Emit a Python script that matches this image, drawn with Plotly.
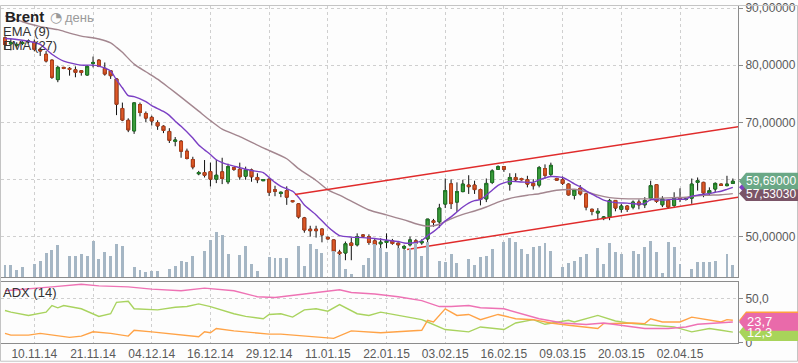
import plotly.graph_objects as go

# ---------------- data ----------------
tick_index = [5, 15, 25, 35, 45, 55, 65, 75, 85, 95, 105, 115]
tick_dates = ["10.11.14", "21.11.14", "04.12.14", "16.12.14", "29.12.14", "11.01.15",
              "22.01.15", "03.02.15", "16.02.15", "09.03.15", "20.03.15", "02.04.15"]

opens = [84.78, 83.72, 83.50, 83.80, 84.10, 84.02, 82.76, 81.90, 80.87, 77.47,
         79.61, 79.44, 79.19, 79.02, 78.28, 80.30, 80.87, 79.44, 79.02, 77.59,
         72.42, 70.35, 68.50, 73.11, 71.55, 70.87, 69.95, 69.31, 68.40, 66.67,
         66.68, 64.95, 63.50, 61.00, 61.21, 61.38, 60.05, 61.33, 59.60, 62.07,
         61.78, 60.57, 61.67, 60.35, 59.78, 60.05, 58.20, 57.55, 58.05, 56.30,
         55.74, 53.28, 51.30, 51.30, 51.33, 49.88, 49.43, 47.30, 47.13, 48.88,
         48.57, 50.30, 50.00, 49.26, 48.75, 48.97, 49.26, 48.85, 47.99, 48.57,
         49.26, 48.92, 49.60, 52.76, 52.59, 55.70, 59.23, 56.04, 57.88, 59.02,
         59.02, 58.23, 56.60, 59.49, 61.78, 62.24, 59.19, 60.35, 60.17, 59.95,
         59.31, 59.02, 61.90, 60.91, 60.17, 59.95, 59.19, 57.20, 58.45, 57.47,
         54.78, 54.14, 53.16, 53.45, 56.33, 54.78, 55.35, 55.17, 56.04, 55.57,
         56.73, 59.09, 55.57, 56.33, 55.47, 56.73, 56.50, 56.73, 59.49, 59.49,
         57.59, 58.33, 59.19, 58.92, 59.31]
highs = [85.05, 84.66, 84.00, 84.20, 84.50, 84.49, 83.05, 82.47, 81.00, 79.88,
         79.70, 79.66, 79.78, 79.14, 80.00, 81.50, 81.04, 80.47, 79.14, 77.76,
         73.45, 70.70, 73.45, 73.45, 71.90, 71.16, 70.35, 69.48, 68.97, 67.42,
         66.90, 65.40, 63.97, 61.50, 63.40, 62.94, 63.40, 63.80, 62.76, 62.10,
         62.94, 62.24, 61.90, 61.09, 60.05, 60.20, 58.90, 57.90, 58.80, 56.40,
         55.86, 53.45, 51.90, 51.90, 51.40, 50.00, 49.50, 47.70, 49.14, 49.83,
         50.57, 50.40, 50.40, 49.71, 49.71, 50.57, 49.60, 48.97, 48.57, 50.00,
         49.60, 49.54, 53.10, 53.10, 55.74, 60.17, 60.00, 59.49, 59.95, 60.74,
         59.78, 58.40, 60.17, 61.78, 62.47, 62.30, 61.09, 61.09, 60.30, 60.64,
         60.05, 62.36, 62.64, 62.94, 60.30, 60.52, 59.30, 58.30, 59.02, 57.60,
         54.90, 54.99, 53.60, 56.60, 56.40, 55.74, 55.50, 56.33, 56.50, 56.90,
         59.78, 59.20, 57.07, 56.50, 57.76, 58.45, 56.90, 60.17, 60.35, 59.60,
         58.62, 59.50, 59.30, 60.64, 60.17]
lows = [82.76, 82.59, 83.10, 83.50, 83.80, 82.42, 81.61, 80.47, 77.59, 77.02,
        79.30, 78.16, 77.88, 78.16, 78.16, 79.61, 79.66, 78.16, 77.59, 71.26,
        70.20, 68.28, 67.98, 71.04, 70.05, 69.43, 68.68, 68.11, 66.38, 65.81,
        63.80, 63.50, 61.78, 60.74, 60.35, 58.79, 59.36, 59.19, 59.19, 61.50,
        59.95, 59.95, 59.60, 59.36, 59.75, 57.10, 57.07, 56.90, 55.56, 56.00,
        53.16, 50.69, 50.00, 49.83, 49.00, 49.50, 47.30, 45.40, 45.87, 45.87,
        48.28, 49.80, 48.57, 47.70, 47.99, 47.99, 48.57, 47.99, 47.70, 48.28,
        48.28, 48.57, 48.85, 51.73, 51.56, 55.00, 54.83, 54.32, 57.76, 57.47,
        57.47, 55.47, 56.04, 59.19, 61.67, 61.33, 58.05, 59.60, 59.80, 58.62,
        58.23, 58.62, 60.17, 60.52, 59.80, 59.02, 57.20, 56.50, 57.19, 54.60,
        53.74, 52.88, 52.88, 52.88, 54.43, 54.20, 54.32, 54.78, 54.78, 55.00,
        56.33, 55.90, 55.17, 54.90, 55.00, 56.04, 56.30, 55.74, 58.05, 56.90,
        57.19, 57.76, 58.90, 58.80, 59.20]
closes = [83.62, 83.90, 83.62, 83.92, 84.20, 82.76, 82.47, 80.74, 77.88, 79.61,
          79.44, 79.26, 78.74, 78.74, 79.78, 80.47, 79.78, 78.45, 78.16, 73.16,
          70.40, 68.68, 73.40, 71.73, 70.74, 70.23, 69.37, 68.57, 66.85, 66.90,
          64.95, 63.67, 62.19, 61.20, 60.74, 60.05, 60.74, 60.17, 62.24, 61.78,
          60.47, 61.67, 60.47, 59.95, 59.99, 57.76, 57.94, 57.76, 56.90, 56.12,
          53.45, 51.16, 51.04, 51.04, 50.30, 49.60, 47.42, 47.02, 48.75, 48.45,
          50.00, 50.10, 48.97, 48.57, 49.02, 49.26, 48.80, 48.57, 48.28, 49.43,
          48.85, 49.14, 53.06, 52.47, 55.00, 58.05, 55.78, 57.88, 59.19, 58.74,
          58.23, 56.50, 59.31, 61.50, 62.24, 61.78, 60.35, 59.95, 59.95, 59.19,
          58.91, 62.07, 60.74, 62.47, 59.88, 59.31, 57.30, 58.15, 57.47, 55.17,
          54.43, 54.43, 53.45, 56.33, 55.00, 55.35, 54.78, 56.04, 55.57, 56.33,
          58.92, 56.16, 56.60, 55.17, 56.73, 56.50, 56.60, 59.19, 59.78, 57.64,
          58.05, 59.31, 58.97, 59.19, 59.69]
volumes = [12300, 12300, 7300, 10000, 0, 13300, 16300, 24300, 27300, 32300,
           0, 21300, 21300, 23300, 21300, 36300, 18300, 25300, 21300, 33300,
           31300, 0, 10300, 7300, 5300, 6300, 6300, 0, 8300, 11300,
           16300, 15300, 21300, 0, 26300, 37300, 45300, 42300, 23300, 0,
           22300, 31300, 13300, 6300, 0, 20300, 19000, 19000, 19000, 0,
           31000, 11000, 33000, 28000, 24000, 0, 26000, 22000, 8000, 3000,
           0, 12000, 19000, 33000, 29000, 25000, 0, 29000, 27000, 29000,
           34000, 21000, 36000, 0, 16000, 15000, 23000, 14000, 0, 18000,
           12000, 20000, 21000, 28000, 0, 36000, 40000, 36000, 28000, 23000,
           30000, 31000, 34300, 26700, 0, 10000, 14000, 16700, 20000, 23300,
           0, 29000, 13300, 34300, 25000, 23300, 0, 26700, 23300, 30000,
           36700, 25000, 4000, 35000, 30000, 13300, 0, 7700, 15700, 15000,
           15700, 16700, 0, 23000, 11700]

ema9_points = [(0, 84.66), (2, 84.49), (5, 83.97), (6, 83.62), (8, 81.90), (10, 80.69),
               (12, 80.18), (13, 80.00), (15, 80.00), (16, 79.83), (18, 78.97), (19, 77.42),
               (20, 76.04), (21, 74.66), (22, 74.49), (24, 73.62), (25, 72.93), (27, 71.90),
               (28, 71.21), (29, 70.18), (30, 69.31), (32, 67.25), (33, 66.04), (34, 65.18),
               (35, 64.37), (36, 63.45), (37, 62.94), (38, 62.59), (40, 62.07), (42, 61.56),
               (44, 61.21), (45, 60.35), (46, 59.49), (47, 58.80), (49, 57.94), (50, 56.90),
               (51, 55.52), (53, 53.80), (55, 51.73), (56, 50.87), (57, 50.18), (59, 49.92),
               (61, 49.83), (63, 49.66), (65, 49.40), (67, 49.14), (68, 48.88), (70, 48.97),
               (71, 49.32), (72, 50.18), (73, 50.87), (74, 51.73), (75, 52.76), (76, 53.45),
               (77, 54.32), (78, 55.18), (79, 55.87), (80, 56.30), (81, 56.47), (82, 57.25),
               (83, 58.11), (84, 58.97), (85, 59.40), (86, 59.66), (88, 59.57), (90, 59.49),
               (91, 59.92), (93, 60.52), (95, 60.35), (96, 59.83), (97, 59.23), (98, 58.71),
               (99, 58.02), (100, 57.42), (101, 56.90), (102, 56.38), (104, 55.95), (106, 55.87),
               (108, 55.70), (109, 55.78), (110, 56.47), (112, 56.38), (114, 56.56), (116, 56.56),
               (117, 57.07), (118, 57.25), (119, 57.42), (120, 57.51), (121, 57.76), (122, 57.94),
               (123, 58.28), (124, 58.63)]

ema27_points = [(0, 88.62), (3, 87.59), (6, 86.73), (9, 86.21), (11, 85.61), (13, 85.09),
                (16, 84.57), (18, 83.88), (19, 83.11), (20, 82.24), (22, 80.18), (24, 78.85),
                (26, 77.55), (28, 76.00), (30, 74.40), (33, 71.95), (35, 70.30), (37, 68.80),
                (40, 67.50), (44, 65.52), (48, 63.63), (50, 61.90), (53, 59.83), (55, 58.19),
                (57, 57.25), (59, 56.21), (62, 54.66), (65, 53.80), (68, 52.94), (70, 52.25),
                (72, 51.82), (73, 51.90), (74, 52.16), (76, 53.11), (78, 53.88), (80, 54.49),
                (82, 55.18), (84, 56.04), (85, 56.38), (87, 56.90), (89, 57.25), (91, 57.50),
                (93, 57.94), (95, 58.19), (97, 58.28), (99, 57.85), (101, 57.25), (103, 56.82),
                (105, 56.64), (107, 56.61), (110, 56.61), (112, 56.73), (114, 56.82), (116, 56.90),
                (118, 57.16), (120, 57.25), (122, 57.33), (124, 57.5303)]

adx_points = [(0, 58.9), (3, 60.8), (8, 63.3), (13, 66.3), (16, 64.4), (21, 63.3), (25, 60.8),
              (30, 58.9), (34, 61.9), (39, 58.9), (43, 52.2), (46, 51.4), (50, 54.4), (56, 59.7),
              (57, 60.0), (59, 57.0), (63, 55.2), (67, 52.2), (71, 47.8), (74, 41.1), (76, 41.1),
              (79, 42.2), (81, 39.7), (85, 38.6), (88, 33.0), (91, 27.4), (95, 22.6), (99, 20.8),
              (102, 22.6), (105, 20.0), (109, 16.3), (113, 16.3), (116, 18.1), (118, 21.1),
              (122, 22.6), (124, 23.7)]
pdi_points = [(0, 36.7), (1, 34.8), (4, 31.1), (7, 34.8), (8, 42.2), (9, 39.7), (10, 42.2),
              (13, 38.6), (16, 30.0), (18, 33.0), (19, 45.9), (21, 47.0), (22, 38.6), (26, 37.4),
              (29, 40.3), (31, 41.1), (33, 44.1), (35, 41.1), (39, 33.0), (41, 30.0), (44, 27.4),
              (45, 32.2), (47, 33.0), (49, 29.2), (51, 37.4), (53, 38.6), (55, 35.9), (57, 43.3),
              (60, 33.0), (62, 31.1), (64, 34.8), (67, 31.1), (71, 26.3), (72, 23.7), (75, 15.2),
              (79, 12.6), (81, 18.1), (85, 15.2), (87, 22.6), (90, 26.3), (92, 21.1), (96, 25.6),
              (97, 23.7), (101, 31.1), (104, 24.8), (107, 21.9), (110, 20.0), (114, 18.1),
              (117, 12.6), (120, 16.3), (122, 14.4), (124, 12.3)]
mdi_points = [(0, 10.8), (1, 8.9), (4, 8.9), (6, 10.8), (11, 6.3), (13, 7.8), (15, 12.6),
              (18, 10.8), (21, 7.8), (22, 14.4), (25, 12.6), (33, 7.0), (34, 12.6), (35, 11.5),
              (36, 16.3), (39, 13.7), (45, 10.0), (47, 10.0), (56, 5.2), (57, 7.8), (59, 13.7),
              (64, 11.5), (67, 12.6), (71, 14.4), (72, 25.6), (73, 23.7), (75, 38.6), (77, 31.1),
              (79, 32.2), (81, 26.3), (84, 32.2), (87, 27.4), (90, 26.3), (93, 22.6), (96, 20.0),
              (99, 18.1), (101, 16.3), (102, 21.9), (107, 22.6), (109, 21.9), (110, 27.4),
              (112, 23.7), (115, 23.7), (117, 29.2), (120, 26.3), (122, 23.7), (123, 26.3),
              (124, 25.6)]

channel_upper = [(49.4, 57.37), (124.9, 69.23)]
channel_lower = [(68.5, 47.76), (124.9, 56.90)]

price_ticks = [50, 60, 70, 80, 90]
adx_ticks = [0, 50]

# ---------------- layout geometry ----------------
W, H = 798, 363
ML, MR, MT, MB = 1, 60, 1, 20
PW, PH = W - ML - MR, H - MT - MB


def px_x(px):
    return (px - ML) / PW


def px_y(py):
    return (H - MB - py) / PH


def fmt(v, d):
    return f"{v:.{d}f}".replace(".", ",")


main_dom = [px_y(276), 1.0]
adx_dom = [0.0, px_y(281)]
x_range = [-0.68, 124.88]
price_range = [42.94, 90.35]
vol_range = [0, 275000]
adx_range = [0, 68.9]
price_per_px = (price_range[1] - price_range[0]) / (276 - 1)
adx_per_px = (adx_range[1] - adx_range[0]) / (343 - 281)

idx = list(range(len(closes)))
body_hi = [max(o, c) for o, c in zip(opens, closes)]
body_lo = [min(o, c) for o, c in zip(opens, closes)]

fig = go.Figure()

fig.add_trace(go.Bar(x=idx, y=volumes, marker=dict(color="#a5b6c4", line=dict(width=0)),
                     width=0.5, xaxis="x", yaxis="y2", hoverinfo="skip", showlegend=False))

fig.add_trace(go.Candlestick(x=idx, open=opens, high=highs, low=lows, close=closes,
                             increasing=dict(line=dict(color="#111111", width=1), fillcolor="#111111"),
                             decreasing=dict(line=dict(color="#111111", width=1), fillcolor="#111111"),
                             whiskerwidth=0, xaxis="x", yaxis="y", showlegend=False, hoverinfo="skip"))
fig.add_trace(go.Candlestick(x=idx, open=opens, high=body_hi, low=body_lo, close=closes,
                             increasing=dict(line=dict(color="#1f7a25", width=1), fillcolor="#3d9e3d"),
                             decreasing=dict(line=dict(color="#b8401a", width=1), fillcolor="#dc5a28"),
                             whiskerwidth=0, xaxis="x", yaxis="y", showlegend=False, hoverinfo="skip"))

fig.add_trace(go.Scatter(x=[p[0] for p in ema27_points], y=[p[1] for p in ema27_points],
                         mode="lines", line=dict(color="#a3868f", width=1.4, shape="spline", smoothing=0.6),
                         xaxis="x", yaxis="y", showlegend=False, hoverinfo="skip"))
fig.add_trace(go.Scatter(x=[p[0] for p in ema9_points], y=[p[1] for p in ema9_points],
                         mode="lines", line=dict(color="#7b3fc4", width=1.4, shape="spline", smoothing=0.6),
                         xaxis="x", yaxis="y", showlegend=False, hoverinfo="skip"))

for ch in (channel_upper, channel_lower):
    fig.add_trace(go.Scatter(x=[p[0] for p in ch], y=[p[1] for p in ch], mode="lines",
                             line=dict(color="#e02b2b", width=1.5), xaxis="x", yaxis="y",
                             showlegend=False, hoverinfo="skip"))

for pts, col in ((pdi_points, "#a9d35f"), (mdi_points, "#ffa347"), (adx_points, "#ee72b4")):
    fig.add_trace(go.Scatter(x=[p[0] for p in pts], y=[p[1] for p in pts], mode="lines",
                             line=dict(color=col, width=1.4), xaxis="x2", yaxis="y3",
                             showlegend=False, hoverinfo="skip"))

grid = dict(showgrid=True, gridcolor="#cfcfcf", griddash="dot", gridwidth=1)
tickfont = dict(family="Liberation Sans, Arial, sans-serif", size=12, color="#5a5a5a")

last_close = closes[-1]
# the 60 label sits under the last-price badge in the reference, so it is left blank
price_ticktext = ["" if abs(v - last_close) < 1.5 else fmt(v, 5) for v in price_ticks]

fig.update_layout(
    width=W, height=H,
    margin=dict(l=ML, r=MR, t=MT, b=MB),
    paper_bgcolor="#fdfdfd", plot_bgcolor="#fdfdfd",
    showlegend=False, bargap=0,
    xaxis=dict(domain=[0, 1], anchor="y", range=x_range, tickvals=tick_index,
               showticklabels=False, ticks="", showline=True, linecolor="#8c8c8c",
               rangeslider=dict(visible=False), zeroline=False, **grid),
    yaxis=dict(domain=main_dom, anchor="x", side="right", range=price_range,
               tickvals=price_ticks, ticktext=price_ticktext, ticklabeloverflow="allow",
               ticks="outside", ticklen=4, tickcolor="#8c8c8c", tickfont=tickfont,
               showline=True, linecolor="#8c8c8c", zeroline=False, **grid),
    yaxis2=dict(overlaying="y", range=vol_range, visible=False, anchor="x"),
    xaxis2=dict(domain=[0, 1], anchor="y3", range=x_range, tickvals=tick_index,
                ticktext=tick_dates, tickfont=tickfont, ticks="", showline=True,
                mirror=True, linecolor="#8c8c8c", zeroline=False, **grid),
    yaxis3=dict(domain=adx_dom, anchor="x2", side="right", range=adx_range,
                tickvals=adx_ticks, ticktext=["0", "50,0"], ticks="outside", ticklen=4,
                ticklabeloverflow="allow",
                tickcolor="#8c8c8c", tickfont=tickfont, showline=True, linecolor="#8c8c8c",
                zeroline=False, **grid),
)

shapes = []
shapes.append(dict(type="rect", xref="paper", yref="paper", x0=px_x(0.5), x1=px_x(797.5),
                   y0=px_y(361.5), y1=px_y(0.5), line=dict(color="#c4c4c4", width=1),
                   fillcolor="rgba(0,0,0,0)", layer="above"))


def badge(yref, yval, half_h, color):
    xt, xb, xr = px_x(739), px_x(746), px_x(800)
    path = (f"M {xt},{yval} L {xb},{yval + half_h} L {xr},{yval + half_h} "
            f"L {xr},{yval - half_h} L {xb},{yval - half_h} Z")
    return dict(type="path", xref="paper", yref=yref, path=path, fillcolor=color,
                line=dict(width=0), layer="above")


last_ema9 = ema9_points[-1][1]
last_ema27 = ema27_points[-1][1]
shapes.append(badge("y", last_ema9, 7.5 * price_per_px, "#7b3fc4"))
shapes.append(badge("y", last_ema27, 7.5 * price_per_px, "#7a5467"))
shapes.append(badge("y", last_close, 8.5 * price_per_px, "#6aa886"))
shapes.append(badge("y3", mdi_points[-1][1], 9 * adx_per_px, "#ffa040"))
shapes.append(badge("y3", pdi_points[-1][1], 9 * adx_per_px, "#a8d45a"))
shapes.append(badge("y3", adx_points[-1][1], 9 * adx_per_px, "#e96aaa"))
fig.update_layout(shapes=shapes)

badge_font = dict(family="Liberation Sans, Arial, sans-serif", size=12, color="white")
ann = []
ann.append(dict(x=px_x(745), y=last_ema27, xref="paper", yref="y", text=fmt(last_ema27, 5),
                showarrow=False, xanchor="left", yanchor="middle", font=badge_font,
                borderpad=0))
ann.append(dict(x=px_x(745), y=last_close, xref="paper", yref="y", text=fmt(last_close, 5),
                showarrow=False, xanchor="left", yanchor="middle", font=badge_font,
                borderpad=0))
ann.append(dict(x=px_x(746), y=pdi_points[-1][1], xref="paper", yref="y3", text=fmt(pdi_points[-1][1], 1),
                showarrow=False, xanchor="left", yanchor="middle",
                font=dict(family="Liberation Sans, Arial, sans-serif", size=13, color="white"),
                borderpad=0))
ann.append(dict(x=px_x(746), y=adx_points[-1][1], xref="paper", yref="y3", text=fmt(adx_points[-1][1], 1),
                showarrow=False, xanchor="left", yanchor="middle",
                font=dict(family="Liberation Sans, Arial, sans-serif", size=13, color="white"),
                borderpad=0))

lab_font = dict(family="Liberation Sans, Arial, sans-serif", size=13, color="#333333")
ann.append(dict(x=px_x(3), y=px_y(12), xref="paper", yref="paper", text="<b>Brent</b>",
                showarrow=False, xanchor="left", yanchor="middle",
                font=dict(family="Liberation Sans, Arial, sans-serif", size=15, color="#222222")))
ann.append(dict(x=px_x(48), y=px_y(12), xref="paper", yref="paper", text="◔",
                showarrow=False, xanchor="left", yanchor="middle",
                font=dict(family="DejaVu Sans", size=14, color="#9a9a9a")))
ann.append(dict(x=px_x(63), y=px_y(13), xref="paper", yref="paper", text="день",
                showarrow=False, xanchor="left", yanchor="middle",
                font=dict(family="Liberation Sans, Arial, sans-serif", size=13, color="#9a9a9a")))
ann.append(dict(x=px_x(1), y=px_y(26.5), xref="paper", yref="paper", text="EMA (9)",
                showarrow=False, xanchor="left", yanchor="middle", font=lab_font))
ann.append(dict(x=px_x(1), y=px_y(41), xref="paper", yref="paper", text="EMA (27)",
                showarrow=False, xanchor="left", yanchor="middle", font=lab_font))
ann.append(dict(x=px_x(1), y=px_y(292), xref="paper", yref="paper", text="ADX (14)",
                showarrow=False, xanchor="left", yanchor="middle", font=lab_font))
fig.update_layout(annotations=ann)

fig.write_html("out.html", config={"displayModeBar": False, "staticPlot": True},
               post_script="document.body.style.margin='0';document.body.style.padding='0';")
